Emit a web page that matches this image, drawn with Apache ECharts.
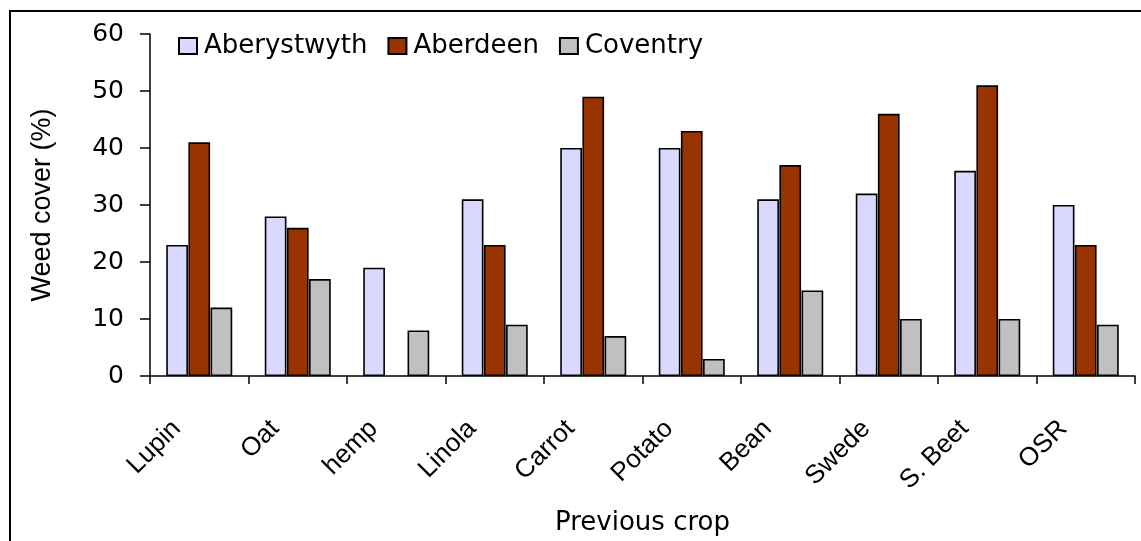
<!DOCTYPE html>
<html>
<head>
<meta charset="utf-8">
<script src="https://cdn.jsdelivr.net/npm/echarts@6/dist/echarts.min.js"></script>
<style>
html,body{margin:0;padding:0;background:#fff;}
#chart{width:1141px;height:541px;}
</style>
</head>
<body>
<div id="chart"></div>
<script>
const categories = ['Lupin', 'Oat', 'hemp', 'Linola', 'Carrot', 'Potato', 'Bean', 'Swede', 'S. Beet', 'OSR'];
const aberystwyth = [23, 28, 19, 31, 40, 40, 31, 32, 36, 30];
const aberdeen = [41, 26, null, 23, 49, 43, 37, 46, 51, 23];
const coventry = [12, 17, 8, 9, 7, 3, 15, 10, 10, 9];
const yTicks = [0, 10, 20, 30, 40, 50, 60];

const chart = echarts.init(document.getElementById('chart'), null, {renderer: 'canvas'});
const barBorder = {borderColor: '#000', borderWidth: 1.6};
const option = {
  backgroundColor: '#fff',
  animation: false,
  graphic: [{
    type: 'rect',
    shape: {x: 10, y: 11, width: 1200, height: 600},
    style: {fill: 'none', stroke: '#000', lineWidth: 2},
    silent: true
  }],
  legend: {
    left: 173,
    top: 28,
    itemWidth: 18,
    itemHeight: 16,
    itemGap: 20,
    icon: 'rect',
    textStyle: {fontFamily: 'DejaVu Sans', fontSize: 26, color: '#000', padding: [0, 0, 0, 2]},
    data: ['Aberystwyth', 'Aberdeen', 'Coventry']
  },
  grid: {left: 150, right: 6, top: 34, bottom: 164, containLabel: false},
  xAxis: {
    type: 'category',
    data: categories,
    name: 'Previous crop',
    nameLocation: 'middle',
    nameGap: 134,
    nameTextStyle: {fontFamily: 'DejaVu Sans', fontSize: 26, color: '#000'},
    axisLine: {lineStyle: {color: '#000', width: 1.5}},
    axisTick: {show: true, length: 8, lineStyle: {color: '#000', width: 1.5}},
    axisLabel: {
      rotate: 45,
      margin: 26,
      padding: [0, 32, 0, 0],
      fontFamily: 'Liberation Sans',
      fontSize: 26,
      color: '#000',
      interval: 0
    }
  },
  yAxis: {
    type: 'value',
    min: yTicks[0],
    max: yTicks[yTicks.length - 1],
    interval: 10,
    name: 'Weed cover (%)',
    nameLocation: 'middle',
    nameGap: 94,
    nameTextStyle: {fontFamily: 'Liberation Sans', fontSize: 27, color: '#000'},
    axisLine: {show: true, lineStyle: {color: '#000', width: 1.5}},
    axisTick: {show: true, length: 10, lineStyle: {color: '#000', width: 1.5}},
    splitLine: {show: false},
    axisLabel: {margin: 26, fontFamily: 'DejaVu Sans', fontSize: 25, color: '#000'}
  },
  series: [
    {name: 'Aberystwyth', type: 'bar', data: aberystwyth, barGap: '2%', barCategoryGap: '33%',
     itemStyle: Object.assign({color: '#D9D9FF'}, barBorder)},
    {name: 'Aberdeen', type: 'bar', data: aberdeen,
     itemStyle: Object.assign({color: '#993300'}, barBorder)},
    {name: 'Coventry', type: 'bar', data: coventry,
     itemStyle: Object.assign({color: '#C0C0C0'}, barBorder)}
  ]
};
chart.setOption(option);
</script>
</body>
</html>
